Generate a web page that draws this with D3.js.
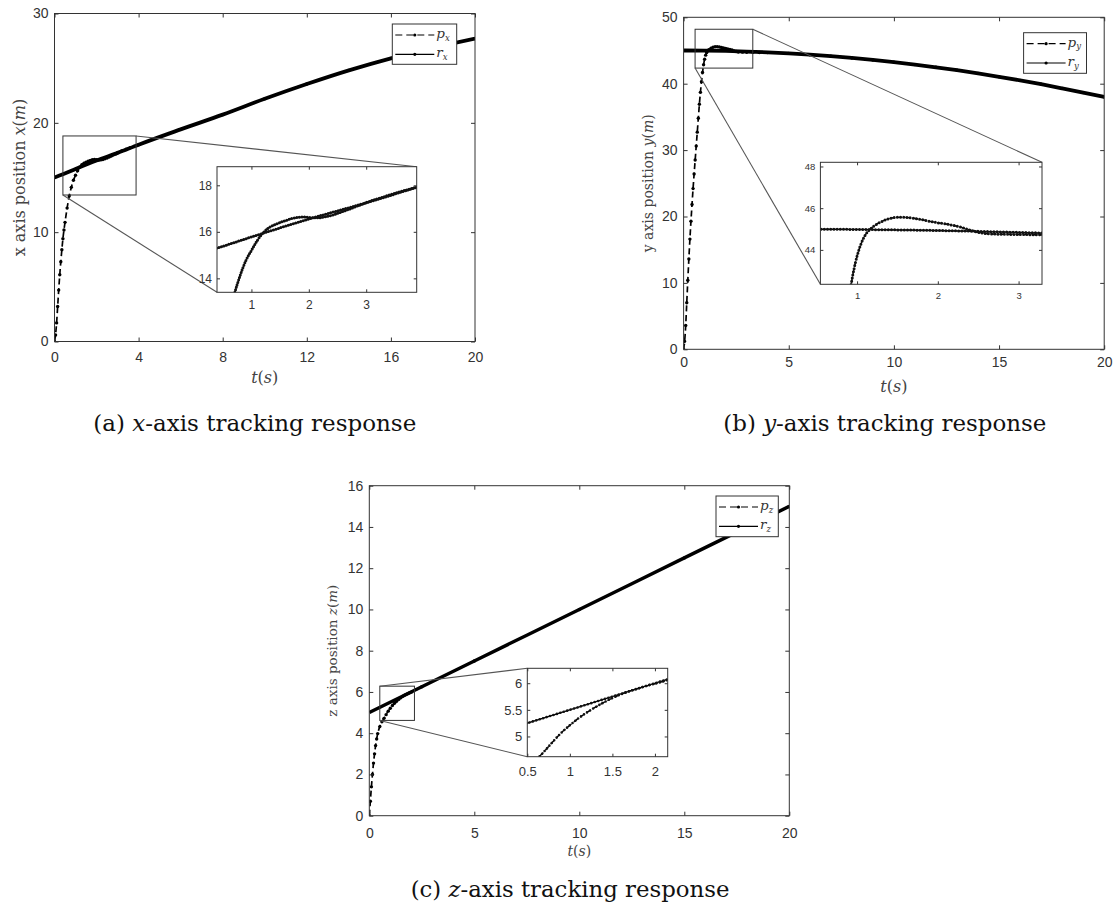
<!DOCTYPE html>
<html>
<head>
<meta charset="utf-8">
<script src="https://cdn.jsdelivr.net/npm/d3@7"></script>
<style>
  body { margin: 0; background: #fff; }
  svg { display: block; }
</style>
</head>
<body>
<svg id="fig" width="1117" height="906"></svg>
<script>
// ---- data ----
// (a) x axis
const tPx = [0,0.05,0.1,0.15,0.2,0.25,0.3,0.35,0.4,0.45,0.5,0.6,0.7,0.8,0.9,1.0,1.1,1.2,1.3,1.4,1.5,1.6,1.7,1.8,1.9,2.0,2.1,2.2,2.3,2.4,2.5,2.6,2.7,2.8,2.9,3.0,3.2,3.4,3.6,4,6,8,10,12,14,16,18,20];
const px  = [0,0.6,1.7,3.2,4.7,6.1,7.3,8.4,9.4,10.2,10.9,12.2,13.3,14.1,14.75,15.2,15.62,15.95,16.17,16.3,16.4,16.49,16.57,16.62,16.64,16.62,16.6,16.61,16.65,16.71,16.79,16.88,16.97,17.07,17.16,17.26,17.42,17.58,17.73,18.0,19.4,20.75,22.2,23.55,24.8,25.9,26.85,27.7];
const tRx = [0,0.4,1,2,3,4,6,8,10,12,14,16,18,20];
const rx  = [15,15.3,15.78,16.55,17.25,18.0,19.4,20.75,22.2,23.55,24.8,25.9,26.85,27.7];

// (b) y axis
const tPy = [0,0.05,0.1,0.15,0.2,0.25,0.3,0.35,0.4,0.45,0.5,0.55,0.6,0.65,0.7,0.75,0.8,0.85,0.9,0.95,1.0,1.05,1.1,1.15,1.2,1.3,1.4,1.5,1.6,1.7,1.8,1.9,2.0,2.1,2.2,2.3,2.4,2.5,2.6,2.8,3.0,3.3,3.6,4,5,6,7,8,9,10,11,12,13,14,15,16,17,18,19,20];
const py  = [0,1.2,3.6,7.0,10.4,13.6,16.6,19.3,21.8,24.2,26.4,28.5,30.6,32.7,34.8,36.9,38.7,40.3,41.7,42.85,43.7,44.3,44.7,44.95,45.12,45.35,45.5,45.56,45.56,45.52,45.45,45.37,45.3,45.24,45.17,45.07,44.95,44.84,44.78,44.75,44.74,44.72,44.7,44.68,44.56,44.37,44.14,43.88,43.58,43.25,42.88,42.47,42.03,41.55,41.04,40.5,39.92,39.3,38.66,38.0];
const tRy = [0,1,2,3,4,5,6,7,8,9,10,11,12,13,14,15,16,17,18,19,20];
const ry  = [45,44.98,44.93,44.84,44.72,44.56,44.37,44.14,43.88,43.58,43.25,42.88,42.47,42.03,41.55,41.04,40.5,39.92,39.3,38.66,38.0];

// (c) z axis
const tPz = [0,0.05,0.1,0.15,0.2,0.25,0.3,0.35,0.4,0.5,0.6,0.7,0.8,0.9,1.0,1.1,1.2,1.3,1.4,1.5,1.6,1.7,1.8,1.9,2.0,2.5,5,10,15,20];
const pz  = [0,0.7,1.4,2.0,2.55,3.0,3.4,3.72,3.98,4.32,4.55,4.72,4.9,5.07,5.21,5.34,5.45,5.55,5.64,5.72,5.79,5.85,5.9,5.95,5.99,6.25,7.5,10,12.5,15];
const tRz = [0,5,10,15,20];
const rz  = [5,7.5,10,12.5,15];

// ticks
const xTicksA = [0,4,8,12,16,20];
const yTicksA = [0,10,20,30];
const xTicksBC = [0,5,10,15,20];
const yTicksB = [0,10,20,30,40,50];
const yTicksC = [0,2,4,6,8,10,12,14,16];
const insetXTicksA = [1,2,3], insetYTicksA = [14,16,18];
const insetXTicksB = [1,2,3], insetYTicksB = [44,46,48];
const insetXTicksC = [0.5,1,1.5,2], insetYTicksC = [5,5.5,6];

// labels
const axisNames = ['x', 'y', 'z'];
const panelLetters = ['a', 'b', 'c'];
const legendNames = ['p', 'r'];

const SANS = "'Liberation Sans', Arial, sans-serif";
const SERIF = "'DejaVu Serif', serif";
const fmt = d3.format('~g');
const svg = d3.select('#fig');
const defs = svg.append('defs');
let clipCount = 0;

function addClip(b) {
  const id = 'clip' + (clipCount++);
  defs.append('clipPath').attr('id', id).append('rect')
    .attr('x', b.x0).attr('y', b.y0).attr('width', b.x1 - b.x0).attr('height', b.y1 - b.y0);
  return id;
}

// box with inward ticks on all four sides, MATLAB style
function frame(g, x, y, b, o) {
  const style = sel => {
    sel.select('.domain').remove();
    sel.selectAll('line').attr('stroke', '#333');
    sel.selectAll('text').attr('fill', '#333')
      .style('font-family', SANS).style('font-size', o.font + 'px');
  };
  g.append('g').attr('transform', `translate(0,${b.y1})`)
    .call(d3.axisBottom(x).tickValues(o.xTicks).tickFormat(fmt)
      .tickSizeInner(-o.tick).tickSizeOuter(0).tickPadding(o.padX))
    .call(style);
  g.append('g').attr('transform', `translate(0,${b.y0})`)
    .call(d3.axisTop(x).tickValues(o.xTicks).tickFormat('')
      .tickSizeInner(-o.tick).tickSizeOuter(0))
    .call(style);
  g.append('g').attr('transform', `translate(${b.x0},0)`)
    .call(d3.axisLeft(y).tickValues(o.yTicks).tickFormat(fmt)
      .tickSizeInner(-o.tick).tickSizeOuter(0).tickPadding(o.padY))
    .call(style);
  g.append('g').attr('transform', `translate(${b.x1},0)`)
    .call(d3.axisRight(y).tickValues(o.yTicks).tickFormat('')
      .tickSizeInner(-o.tick).tickSizeOuter(0))
    .call(style);
  g.append('rect')
    .attr('x', b.x0).attr('y', b.y0)
    .attr('width', b.x1 - b.x0).attr('height', b.y1 - b.y0)
    .attr('fill', 'none').attr('stroke', '#333').attr('stroke-width', 1);
}

function corner(b, k) {
  return [k[1] === 'l' ? b.x0 : b.x1, k[0] === 't' ? b.y0 : b.y1];
}

function panel(c) {
  const g = svg.append('g');
  const b = c.box;
  const x = d3.scaleLinear().domain([0, 20]).range([b.x0, b.x1]);
  const y = d3.scaleLinear().domain(c.yDomain).range([b.y1, b.y0]);
  const pPts = d3.zip(c.tp, c.p);
  const rPts = d3.zip(c.tr, c.r);

  // main curves
  const line = d3.line().x(d => x(d[0])).y(d => y(d[1])).curve(d3.curveMonotoneX);
  const lines = g.append('g').attr('clip-path', `url(#${addClip(b)})`);
  lines.append('path').attr('d', line(pPts))
    .attr('fill', 'none').attr('stroke', '#000').attr('stroke-width', 1.7)
    .attr('stroke-dasharray', '6,3.5');
  lines.selectAll('circle').data(pPts).join('circle')
    .attr('cx', d => x(d[0])).attr('cy', d => y(d[1])).attr('r', 1.7).attr('fill', '#000');
  lines.append('path').attr('d', line(rPts))
    .attr('fill', 'none').attr('stroke', '#000').attr('stroke-width', c.rWidth)
    .attr('stroke-linejoin', 'round');

  frame(g, x, y, b, {xTicks: c.xTicks, yTicks: c.yTicks, font: 14, tick: 4, padX: c.padX, padY: 6});

  // axis labels
  const yl = g.append('text')
    .attr('transform', `translate(${c.ylabX},${(b.y0 + b.y1) / 2}) rotate(-90)`)
    .attr('text-anchor', 'middle').attr('dominant-baseline', 'middle')
    .attr('fill', '#444').style('font-family', SERIF).style('font-size', c.ylabFont + 'px');
  yl.append('tspan').text(c.name + ' axis position ');
  yl.append('tspan').style('font-style', 'italic').text(c.name);
  yl.append('tspan').text('(');
  yl.append('tspan').style('font-style', 'italic').text('m');
  yl.append('tspan').text(')');

  const xl = g.append('text')
    .attr('x', (b.x0 + b.x1) / 2).attr('y', c.tY)
    .attr('text-anchor', 'middle').attr('dominant-baseline', 'middle')
    .attr('fill', '#444').style('font-family', SERIF).style('font-size', c.tFont + 'px');
  xl.append('tspan').style('font-style', 'italic').text('t');
  xl.append('tspan').text('(');
  xl.append('tspan').style('font-style', 'italic').text('s');
  xl.append('tspan').text(')');

  // legend
  const L = c.legend;
  const lg = g.append('g');
  lg.append('rect').attr('x', L.x).attr('y', L.y).attr('width', L.w).attr('height', L.h)
    .attr('fill', '#fff').attr('stroke', '#333').attr('stroke-width', 1);
  legendNames.forEach((nm, i) => {
    const yy = L.y + (i === 0 ? 11 : 30.3);
    lg.append('line').attr('x1', L.x + 3).attr('x2', L.x + 42).attr('y1', yy).attr('y2', yy)
      .attr('stroke', '#000').attr('stroke-width', 1.2)
      .attr('stroke-dasharray', i === 0 ? '7,4' : null);
    lg.append('circle').attr('cx', L.x + 22.5).attr('cy', yy).attr('r', 1.6).attr('fill', '#000');
    const t = lg.append('text').attr('x', L.x + 44).attr('y', yy + 3)
      .attr('fill', '#333').style('font-family', SERIF).style('font-style', 'italic');
    t.append('tspan').style('font-size', '13.5px').text(nm);
    t.append('tspan').attr('dy', 2.5).style('font-size', '8.5px').text(c.name);
  });

  // zoom rectangle in the main axes
  const I = c.inset;
  const zr = {x0: x(I.xDomain[0]), x1: x(I.xDomain[1]), y0: y(I.yDomain[1]), y1: y(I.yDomain[0])};
  g.append('rect').attr('x', zr.x0).attr('y', zr.y0)
    .attr('width', zr.x1 - zr.x0).attr('height', zr.y1 - zr.y0)
    .attr('fill', 'none').attr('stroke', '#333').attr('stroke-width', 1);
  c.links.forEach(([a, bb]) => {
    const p1 = corner(zr, a), p2 = corner(I.box, bb);
    g.append('line').attr('x1', p1[0]).attr('y1', p1[1]).attr('x2', p2[0]).attr('y2', p2[1])
      .attr('stroke', '#555').attr('stroke-width', 1.1);
  });

  // inset axes
  const ib = I.box;
  const ix = d3.scaleLinear().domain(I.xDomain).range([ib.x0, ib.x1]);
  const iy = d3.scaleLinear().domain(I.yDomain).range([ib.y1, ib.y0]);
  g.append('rect').attr('x', ib.x0).attr('y', ib.y0)
    .attr('width', ib.x1 - ib.x0).attr('height', ib.y1 - ib.y0).attr('fill', '#fff');
  const iline = d3.line().x(d => ix(d[0])).y(d => iy(d[1])).curve(d3.curveMonotoneX);
  const il = g.append('g').attr('clip-path', `url(#${addClip(ib)})`);
  il.append('path').attr('d', iline(pPts))
    .attr('fill', 'none').attr('stroke', '#000').attr('stroke-width', 1.4)
    .attr('stroke-dasharray', '5,3');
  il.append('path').attr('d', iline(rPts))
    .attr('fill', 'none').attr('stroke', '#000').attr('stroke-width', 1.3);
  [pPts, rPts].forEach(pts => {
    il.append('path').attr('d', iline(pts))
      .attr('fill', 'none').attr('stroke', '#111').attr('stroke-width', I.bead)
      .attr('stroke-linecap', 'round').attr('stroke-dasharray', `0,${I.beadGap}`);
  });
  frame(g, ix, iy, ib, {xTicks: I.xTicks, yTicks: I.yTicks, font: I.font, tick: 3, padX: I.padX, padY: 5});

  // caption
  const cap = svg.append('text').attr('x', c.cap.x).attr('y', c.cap.y)
    .attr('textLength', c.cap.w).attr('lengthAdjust', 'spacingAndGlyphs')
    .attr('fill', '#111').style('font-family', SERIF).style('font-size', '22px');
  cap.append('tspan').text(`(${c.letter}) `);
  cap.append('tspan').style('font-style', 'italic').text(c.name);
  cap.append('tspan').text('-axis tracking response');
}

panel({
  name: axisNames[0], letter: panelLetters[0],
  box: {x0: 54.5, x1: 475, y0: 13.5, y1: 341.5},
  yDomain: [0, 30], xTicks: xTicksA, yTicks: yTicksA, padX: 11,
  tp: tPx, p: px, tr: tRx, r: rx, rWidth: 3.8,
  ylabX: 20, ylabFont: 16, tY: 378, tFont: 16,
  legend: {x: 392.3, y: 24, w: 64.4, h: 40.3},
  inset: {box: {x0: 217, x1: 416.7, y0: 166.7, y1: 292.3},
          xDomain: [0.4, 3.88], yDomain: [13.4, 18.8],
          xTicks: insetXTicksA, yTicks: insetYTicksA, font: 12, padX: 8, bead: 3, beadGap: 2.6},
  links: [['tr', 'tr'], ['bl', 'bl']],
  cap: {x: 93.3, y: 431, w: 323}
});

panel({
  name: axisNames[1], letter: panelLetters[1],
  box: {x0: 683.6, x1: 1104.2, y0: 17.3, y1: 349.3},
  yDomain: [0, 50], xTicks: xTicksBC, yTicks: yTicksB, padX: 7.5,
  tp: tPy, p: py, tr: tRy, r: ry, rWidth: 3.8,
  ylabX: 649, ylabFont: 14, tY: 386.7, tFont: 16,
  legend: {x: 1023.6, y: 32.7, w: 62.9, h: 40.6},
  inset: {box: {x0: 820.4, x1: 1042, y0: 162.3, y1: 284.3},
          xDomain: [0.546, 3.29], yDomain: [42.35, 48.2],
          xTicks: insetXTicksB, yTicks: insetYTicksB, font: 9.5, padX: 8, bead: 3, beadGap: 3.2},
  links: [['tr', 'tr'], ['bl', 'bl']],
  cap: {x: 723.3, y: 431, w: 323}
});

panel({
  name: axisNames[2], letter: panelLetters[2],
  box: {x0: 369.3, x1: 789.3, y0: 485.7, y1: 815.7},
  yDomain: [0, 16], xTicks: xTicksBC, yTicks: yTicksC, padX: 12.5,
  tp: tPz, p: pz, tr: tRz, r: rz, rWidth: 3.4,
  ylabX: 333, ylabFont: 13.5, tY: 851.7, tFont: 14,
  legend: {x: 716, y: 496, w: 62.3, h: 40.7},
  inset: {box: {x0: 527.3, x1: 667.7, y0: 668.3, y1: 756.7},
          xDomain: [0.5, 2.15], yDomain: [4.62, 6.28],
          xTicks: insetXTicksC, yTicks: insetYTicksC, font: 13, padX: 10, bead: 2.6, beadGap: 3.6},
  links: [['tl', 'tl'], ['bl', 'bl']],
  cap: {x: 410.7, y: 897, w: 318.7}
});
</script>
</body>
</html>
